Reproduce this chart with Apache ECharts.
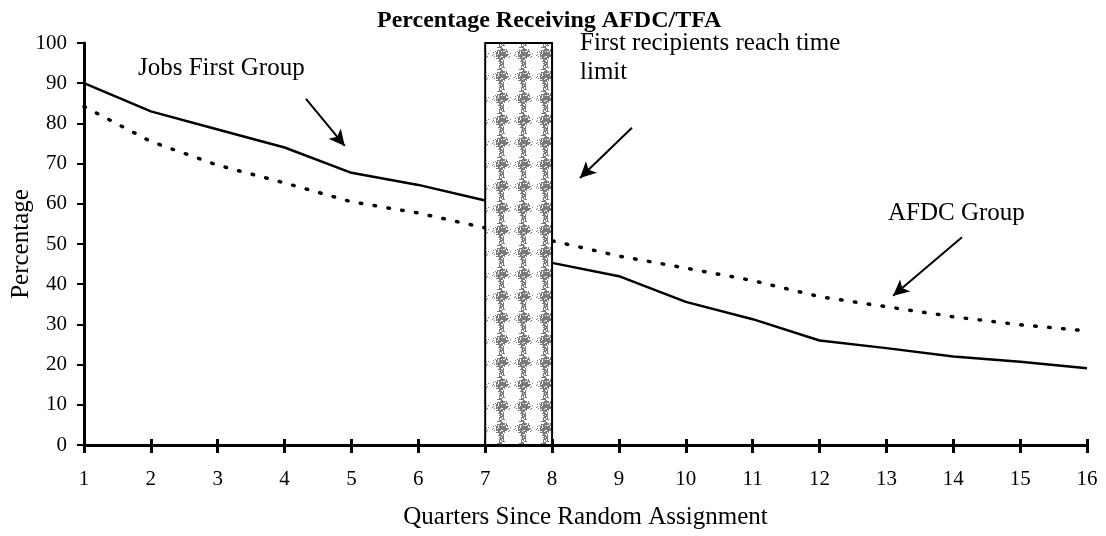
<!DOCTYPE html>
<html>
<head>
<meta charset="utf-8">
<script src="https://cdn.jsdelivr.net/npm/echarts@6/dist/echarts.min.js"></script>
<style>
  html, body { margin: 0; padding: 0; background: #fff; }
  #chart { width: 1106px; height: 536px; }
</style>
</head>
<body>
<div id="chart"></div>
<script>
const quarters = [1, 2, 3, 4, 5, 6, 7, 8, 9, 10, 11, 12, 13, 14, 15, 16]
const jobsFirst = [90, 83, 78.5, 74, 67.7, 64.7, 60.8, 45.3, 42, 35.6, 31.3, 26, 24.1, 22, 20.7, 19.1]
const afdc = [84.2, 75.5, 69.6, 65.2, 60.5, 57.7, 54, 50.8, 47, 44, 40.9, 36.9, 34.4, 31.9, 29.9, 28.4]
const limitBand = [7, 8]

const serif = '"Liberation Serif", "DejaVu Serif", serif'

// speckled gray blobs for the time-limit band (tile repeats every 22 x 22 px)
function makePattern() {
  const w = 22, h = 22
  const c = document.createElement('canvas')
  c.width = w
  c.height = h
  const ctx = c.getContext('2d')
  ctx.fillStyle = '#fff'
  ctx.fillRect(0, 0, w, h)
  ctx.fillStyle = '#7a7a7a'
  const cx = 17, cy = 10
  for (let y = 0; y < h; y++) {
    for (let x = 0; x < w; x++) {
      let dx = x - cx
      if (dx > w / 2) dx -= w
      if (dx < -w / 2) dx += w
      let dy = y - cy
      if (dy > h / 2) dy -= h
      if (dy < -h / 2) dy += h
      const d = Math.abs(dx) / 6.5 + Math.abs(dy) / 9
      const hsh = Math.abs(Math.sin(x * 12.9898 + y * 78.233) * 43758.5453) % 1
      // thin vertical chain joining blobs of the same column
      const chain = Math.abs(dx) < 2.5 && hsh < 0.45
      if ((d < 1 && hsh < 0.92 - d * 0.3) || chain) ctx.fillRect(x, y, 1, 1)
      else if (d < 1.5 && hsh < 0.15) ctx.fillRect(x, y, 1, 1)
    }
  }
  return c
}

const myChart = echarts.init(document.getElementById('chart'))
const pair = (xs, ys) => xs.map((x, i) => [x, ys[i]])

const arrowStyle = { color: '#000', width: 2, type: 'solid' }
const textFont = '25px ' + serif

const option = {
  animation: false,
  backgroundColor: '#fff',
  title: {
    text: 'Percentage Receiving AFDC/TFA',
    left: 372,
    top: 4,
    textStyle: { fontFamily: serif, fontWeight: 'bold', fontSize: 24, color: '#000' }
  },
  grid: { left: 84, right: 19, top: 43, bottom: 91, outerBoundsMode: 'none' },
  xAxis: [
    {
      type: 'value',
      min: 1,
      max: 16,
      interval: 1,
      name: 'Quarters Since Random Assignment',
      nameLocation: 'middle',
      nameGap: 60,
      nameMoveOverlap: false,
      nameTextStyle: { fontFamily: serif, fontSize: 25, color: '#000' },
      axisLine: { lineStyle: { color: '#000', width: 3 } },
      axisTick: { show: true, inside: false, length: 8, lineStyle: { color: '#000', width: 3 } },
      axisLabel: { fontFamily: serif, fontSize: 21, color: '#000', margin: 24 },
      splitLine: { show: false }
    },
    {
      // second pass only for the upward half of the crossing ticks
      type: 'value',
      position: 'bottom',
      min: 1,
      max: 16,
      interval: 1,
      axisLine: { show: false },
      axisTick: { show: true, inside: true, length: 6, lineStyle: { color: '#000', width: 3 } },
      axisLabel: { show: false },
      splitLine: { show: false }
    }
  ],
  yAxis: {
    type: 'value',
    min: 0,
    max: 100,
    interval: 10,
    name: 'Percentage',
    nameLocation: 'middle',
    nameGap: 50,
    nameMoveOverlap: false,
    nameTextStyle: { fontFamily: serif, fontSize: 25, color: '#000' },
    axisLine: { show: true, lineStyle: { color: '#000', width: 3 } },
    axisTick: { show: true, length: 7, lineStyle: { color: '#000', width: 2 } },
    axisLabel: { fontFamily: serif, fontSize: 21, color: '#000', margin: 17 },
    splitLine: { show: false }
  },
  series: [
    {
      name: 'Jobs First Group',
      type: 'line',
      data: pair(quarters, jobsFirst),
      symbol: 'none',
      lineStyle: { color: '#000', width: 2.5 },
      z: 2,
      markLine: {
        silent: true,
        symbol: ['none', 'arrow'],
        symbolSize: [12, 16],
        label: { show: false },
        lineStyle: arrowStyle,
        data: [
          [{ coord: [4.32, 86.1] }, { coord: [4.9, 74.4] }],
          [{ coord: [9.195, 78.9] }, { coord: [8.417, 66.4] }],
          [{ coord: [14.13, 51.7] }, { coord: [13.1, 37.1] }]
        ]
      }
    },
    {
      name: 'AFDC Group',
      type: 'line',
      data: pair(quarters, afdc),
      symbol: 'none',
      lineStyle: { color: '#000', width: 3.5, type: [1.5, 12.5], cap: 'round' },
      z: 2,
      markArea: {
        silent: true,
        z: 10,
        itemStyle: {
          color: { image: makePattern(), repeat: 'repeat' },
          borderColor: '#000',
          borderWidth: 2
        },
        data: [[{ coord: [limitBand[0], 0] }, { coord: [limitBand[1], 101.5] }]]
      }
    }
  ],
  graphic: [
    {
      type: 'text', left: 138, top: 56,
      style: { text: 'Jobs First Group', font: textFont, fill: '#000' }
    },
    {
      type: 'text', left: 580, top: 29,
      style: { text: 'First recipients reach time\nlimit', font: textFont, fill: '#000', lineHeight: 29 }
    },
    {
      type: 'text', left: 888, top: 201,
      style: { text: 'AFDC Group', font: textFont, fill: '#000' }
    }
  ]
}

option && myChart.setOption(option)
</script>
</body>
</html>
